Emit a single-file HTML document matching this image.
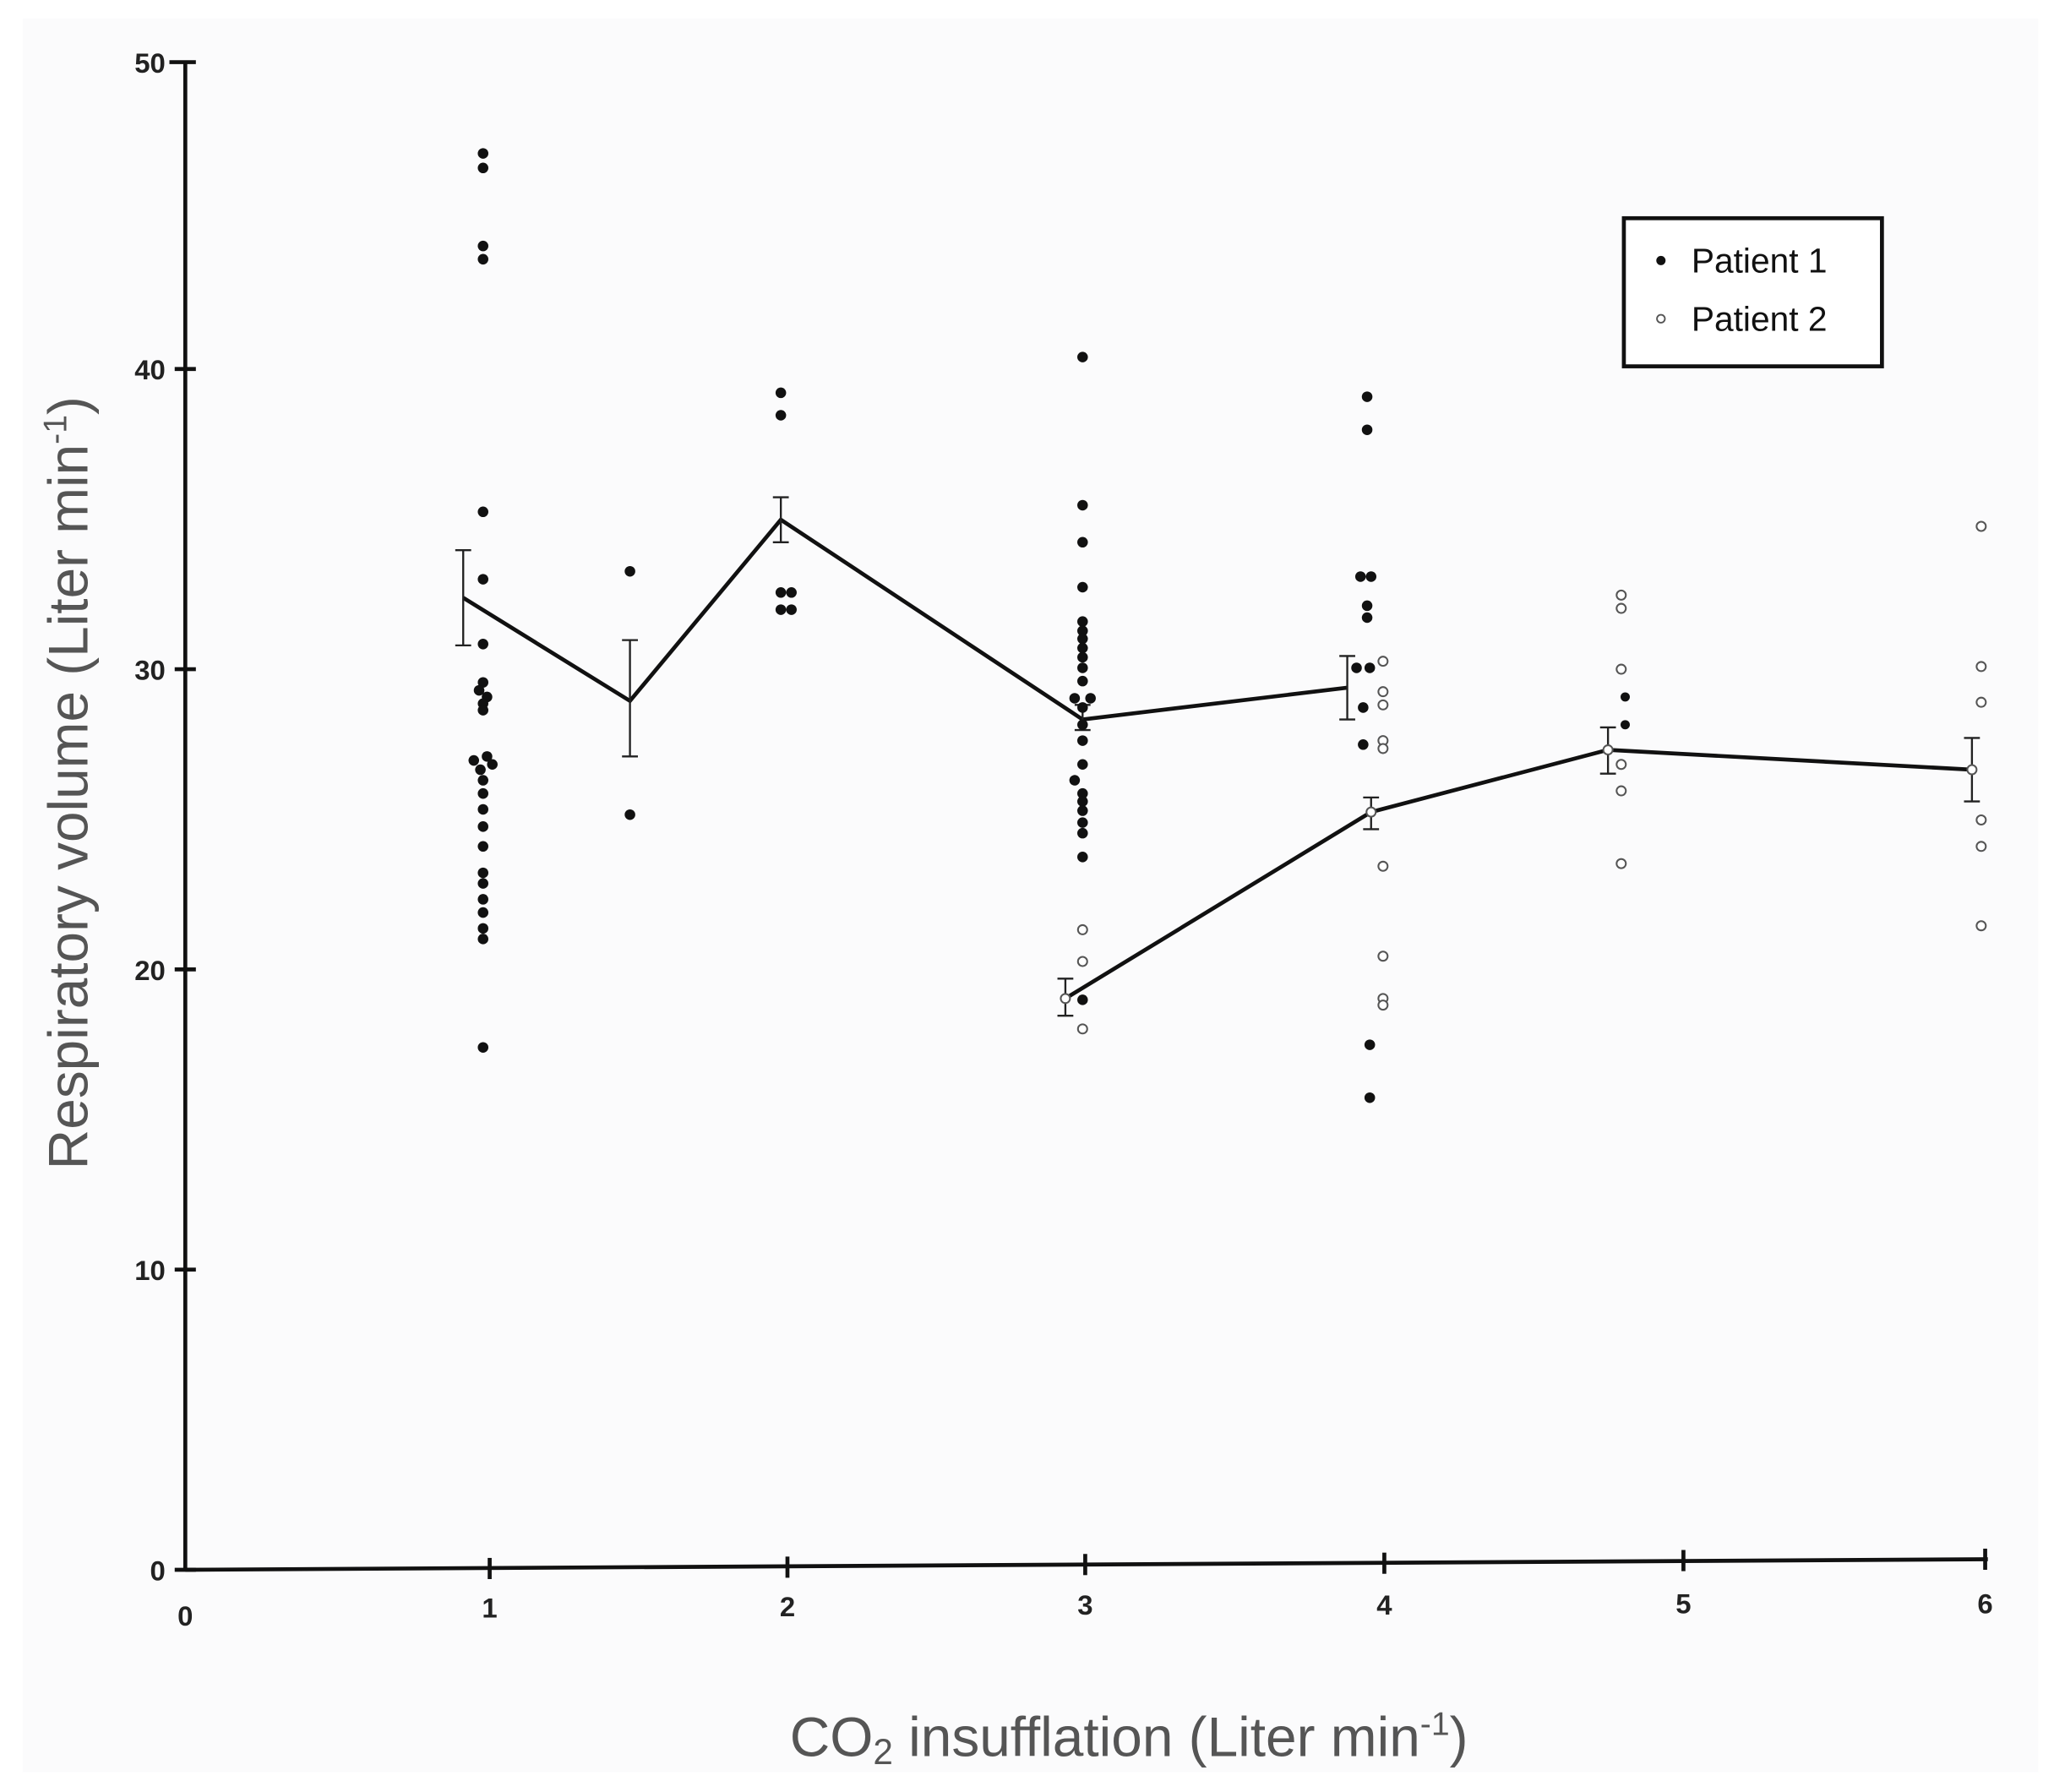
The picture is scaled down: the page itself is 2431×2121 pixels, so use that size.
<!DOCTYPE html>
<html><head><meta charset="utf-8"><style>html,body{margin:0;padding:0;background:#fff}svg{display:block}</style></head>
<body>
<svg width="2431" height="2121" viewBox="0 0 1552 1355" preserveAspectRatio="none" xmlns="http://www.w3.org/2000/svg" font-family="Liberation Sans, sans-serif">
<rect x="0" y="0" width="1552" height="1355" fill="#fff"/>
<rect x="17" y="14" width="1523" height="1326" fill="#fbfbfc"/>
<g stroke="#111" stroke-width="3" fill="none">
<line x1="140" y1="47" x2="140" y2="1188"/>
<line x1="140" y1="1187" x2="1502" y2="1179"/>
</g>
<g stroke="#111" stroke-width="3">
<line x1="128" y1="47" x2="148" y2="47"/><line x1="132" y1="279" x2="148" y2="279"/><line x1="132" y1="506" x2="148" y2="506"/><line x1="132" y1="733" x2="148" y2="733"/><line x1="132" y1="960" x2="148" y2="960"/><line x1="132" y1="1187" x2="148" y2="1187"/>
<line x1="370" y1="1178" x2="370" y2="1194"/><line x1="595" y1="1177" x2="595" y2="1193"/><line x1="820" y1="1175" x2="820" y2="1191"/><line x1="1046" y1="1174" x2="1046" y2="1190"/><line x1="1272" y1="1172" x2="1272" y2="1188"/><line x1="1500" y1="1171" x2="1500" y2="1187"/>
</g>
<g font-weight="bold" font-size="21" fill="#222" text-anchor="end">
<text x="125" y="55">50</text><text x="125" y="287">40</text><text x="125" y="514">30</text><text x="125" y="741">20</text><text x="125" y="968">10</text><text x="125" y="1195">0</text>
</g>
<g font-weight="bold" font-size="21" fill="#222" text-anchor="middle">
<text x="140" y="1229">0</text><text x="370" y="1223">1</text><text x="595" y="1222">2</text><text x="820" y="1221">3</text><text x="1046" y="1221">4</text><text x="1272" y="1220">5</text><text x="1500" y="1220">6</text>
</g>
<text transform="translate(66,592) rotate(-90)" text-anchor="middle" font-size="42" fill="#555">Respiratory volume (Liter min<tspan font-size="25" dy="-16">-1</tspan><tspan dy="16">)</tspan></text>
<text x="853" y="1328" text-anchor="middle" font-size="42" fill="#555">CO<tspan font-size="27" dy="6">2</tspan><tspan dy="-6"> insufflation (Liter min</tspan><tspan font-size="25" dy="-16">-1</tspan><tspan dy="16">)</tspan></text>
<rect x="1227" y="165" width="195" height="112" fill="#fff" stroke="#111" stroke-width="3"/>
<circle cx="1255" cy="197" r="3.5" fill="#111"/>
<circle cx="1255" cy="241" r="3" fill="none" stroke="#555" stroke-width="1.2"/>
<text x="1278" y="206" font-size="26" fill="#111">Patient 1</text>
<text x="1278" y="250" font-size="26" fill="#111">Patient 2</text>
<g stroke="#111" stroke-width="3" fill="none">
<polyline points="350,452 476,530 590,393 818,544 1018,520"/>
<polyline points="805,755 1036,614 1215,567 1490,582"/>
</g>
<g stroke="#222" stroke-width="1.5">
<path d="M350 416V488M344 416H356M344 488H356"/>
<path d="M476 484V572M470 484H482M470 572H482"/>
<path d="M590 376V410M584 376H596M584 410H596"/>
<path d="M818 533V552M812 533H824M812 552H824"/>
<path d="M1018 496V544M1012 496H1024M1012 544H1024"/>
<path d="M805 740V768M799 740H811M799 768H811"/>
<path d="M1036 603V627M1030 603H1042M1030 627H1042"/>
<path d="M1215 550V585M1209 550H1221M1209 585H1221"/>
<path d="M1490 558V606M1484 558H1496M1484 606H1496"/>
</g>
<g fill="#111">
<circle cx="365" cy="116" r="4"/><circle cx="365" cy="127" r="4"/><circle cx="365" cy="186" r="4"/><circle cx="365" cy="196" r="4"/><circle cx="365" cy="387" r="4"/><circle cx="365" cy="438" r="4"/><circle cx="365" cy="487" r="4"/><circle cx="365" cy="516" r="4"/><circle cx="362" cy="522" r="4"/><circle cx="368" cy="527" r="4"/><circle cx="365" cy="532" r="4"/><circle cx="365" cy="537" r="4"/><circle cx="358" cy="575" r="4"/><circle cx="368" cy="572" r="4"/><circle cx="372" cy="578" r="4"/><circle cx="363" cy="582" r="4"/><circle cx="365" cy="590" r="4"/><circle cx="365" cy="600" r="4"/><circle cx="365" cy="612" r="4"/><circle cx="365" cy="625" r="4"/><circle cx="365" cy="640" r="4"/><circle cx="365" cy="660" r="4"/><circle cx="365" cy="668" r="4"/><circle cx="365" cy="680" r="4"/><circle cx="365" cy="690" r="4"/><circle cx="365" cy="702" r="4"/><circle cx="365" cy="710" r="4"/><circle cx="365" cy="792" r="4"/>
<circle cx="476" cy="432" r="4"/><circle cx="476" cy="616" r="4"/>
<circle cx="590" cy="297" r="4"/><circle cx="590" cy="314" r="4"/><circle cx="590" cy="448" r="4"/><circle cx="598" cy="448" r="4"/><circle cx="590" cy="461" r="4"/><circle cx="598" cy="461" r="4"/>
<circle cx="818" cy="270" r="4"/><circle cx="818" cy="382" r="4"/><circle cx="818" cy="410" r="4"/><circle cx="818" cy="444" r="4"/><circle cx="818" cy="470" r="4"/><circle cx="818" cy="477" r="4"/><circle cx="818" cy="483" r="4"/><circle cx="818" cy="490" r="4"/><circle cx="818" cy="497" r="4"/><circle cx="818" cy="505" r="4"/><circle cx="818" cy="515" r="4"/><circle cx="812" cy="528" r="4"/><circle cx="824" cy="528" r="4"/><circle cx="818" cy="535" r="4"/><circle cx="818" cy="548" r="4"/><circle cx="818" cy="560" r="4"/><circle cx="818" cy="578" r="4"/><circle cx="812" cy="590" r="4"/><circle cx="818" cy="600" r="4"/><circle cx="818" cy="606" r="4"/><circle cx="818" cy="613" r="4"/><circle cx="818" cy="622" r="4"/><circle cx="818" cy="630" r="4"/><circle cx="818" cy="648" r="4"/><circle cx="818" cy="756" r="4"/>
<circle cx="1033" cy="300" r="4"/><circle cx="1033" cy="325" r="4"/><circle cx="1028" cy="436" r="4"/><circle cx="1036" cy="436" r="4"/><circle cx="1033" cy="458" r="4"/><circle cx="1033" cy="467" r="4"/><circle cx="1025" cy="505" r="4"/><circle cx="1035" cy="505" r="4"/><circle cx="1030" cy="535" r="4"/><circle cx="1030" cy="563" r="4"/><circle cx="1035" cy="790" r="4"/><circle cx="1035" cy="830" r="4"/>
<circle cx="1228" cy="548" r="3.5"/><circle cx="1228" cy="527" r="3.5"/>
</g>
<g fill="#fff" stroke="#555" stroke-width="1.3">
<circle cx="818" cy="703" r="3.5"/><circle cx="818" cy="727" r="3.5"/><circle cx="818" cy="778" r="3.5"/>
<circle cx="1045" cy="500" r="3.5"/><circle cx="1045" cy="523" r="3.5"/><circle cx="1045" cy="533" r="3.5"/><circle cx="1045" cy="560" r="3.5"/><circle cx="1045" cy="566" r="3.5"/><circle cx="1045" cy="655" r="3.5"/><circle cx="1045" cy="723" r="3.5"/><circle cx="1045" cy="755" r="3.5"/><circle cx="1045" cy="760" r="3.5"/>
<circle cx="1225" cy="450" r="3.5"/><circle cx="1225" cy="460" r="3.5"/><circle cx="1225" cy="506" r="3.5"/><circle cx="1225" cy="578" r="3.5"/><circle cx="1225" cy="598" r="3.5"/><circle cx="1225" cy="653" r="3.5"/>
<circle cx="1497" cy="398" r="3.5"/><circle cx="1497" cy="504" r="3.5"/><circle cx="1497" cy="531" r="3.5"/><circle cx="1497" cy="620" r="3.5"/><circle cx="1497" cy="640" r="3.5"/><circle cx="1497" cy="700" r="3.5"/>
<circle cx="805" cy="755" r="3.5"/><circle cx="1036" cy="614" r="3.5"/><circle cx="1215" cy="567" r="3.5"/><circle cx="1490" cy="582" r="3.5"/>
</g>
</svg>
</body></html>
